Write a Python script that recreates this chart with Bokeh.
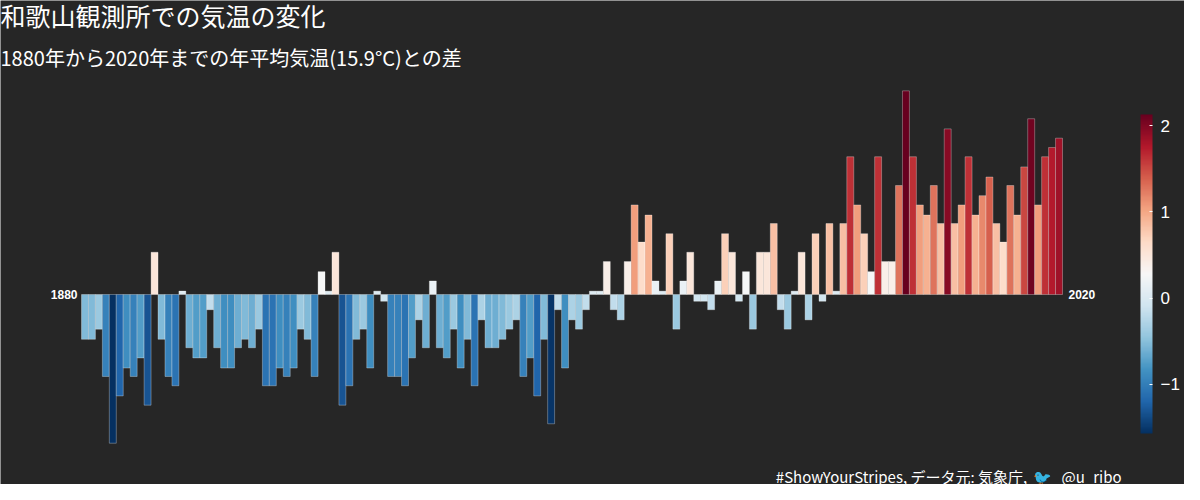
from bokeh.plotting import figure
from bokeh.models import ColumnDataSource, LinearColorMapper, ColorBar, Label, FixedTicker
from bokeh.transform import transform
from bokeh.palettes import RdBu11
from bokeh.embed import file_html
from bokeh.resources import INLINE

years = list(range(1880, 2021))
anomaly = [
 -0.53,-0.53,-0.41,-0.97,-1.76,-1.20,-0.87,-0.97,-0.75,-1.31,
 0.50,-0.53,-0.97,-1.08,0.04,-0.63,-0.75,-0.75,-0.18,-0.63,
 -0.87,-0.87,-0.63,-0.53,-0.63,-0.41,-1.08,-1.08,-0.87,-0.97,
 -0.87,-0.41,-0.53,-0.97,0.27,0.04,0.50,-1.31,-1.08,-0.53,
 -0.41,-0.87,0.04,-0.08,-0.97,-0.97,-1.08,-0.75,-0.30,-0.63,
 0.16,-0.63,-0.75,-0.41,-0.87,-0.53,-1.08,-0.30,-0.63,-0.63,
 -0.53,-0.41,-0.30,-0.97,-0.75,-1.20,-0.53,-1.53,-0.18,-0.87,
 -0.30,-0.41,-0.18,0.04,0.04,0.39,-0.18,-0.30,0.39,1.06,
 0.62,0.94,0.16,0.04,0.72,-0.41,0.16,0.50,-0.08,-0.08,
 -0.18,0.16,0.72,0.50,-0.08,0.27,-0.41,0.50,0.50,0.84,
 -0.18,-0.41,0.04,0.50,-0.30,0.72,-0.08,0.84,0.04,0.84,
 1.63,1.06,0.72,0.27,1.63,0.39,0.39,1.29,2.41,1.63,
 1.06,0.94,1.29,0.84,1.96,0.84,1.06,1.63,0.94,1.17,
 1.39,0.84,0.62,1.29,0.94,1.51,2.08,1.06,1.63,1.74,1.85]

title = "和歌山観測所での気温の変化"
subtitle = "1880年から2020年までの年平均気温(15.9°C)との差"
caption = "#ShowYourStripes, データ元: 気象庁, "
handle = "@u_ribo"
cbar_ticks = [-1, 0, 1, 2]

def smooth(pal, n=256):
    base = [tuple(int(c[i:i + 2], 16) for i in (1, 3, 5)) for c in pal]
    out = []
    for k in range(n):
        t = k / (n - 1) * (len(base) - 1)
        i = min(int(t), len(base) - 2)
        f = t - i
        r, g, b = (round(base[i][j] + (base[i + 1][j] - base[i][j]) * f) for j in range(3))
        out.append("#%02x%02x%02x" % (r, g, b))
    return out

W, H = 1184, 484
upp = 141 / 981.0
x0 = 1879.5 - 81 * upp
x1 = 2020.5 + (W - 1062) * upp
ppu = 84.5
y1 = 294 / ppu
y0 = -(H - 294) / ppu

p = figure(width=W, height=H, output_backend="svg", toolbar_location=None,
           x_range=(x0, x1), y_range=(y0, y1), min_border=0,
           background_fill_color="#262626", border_fill_color="#262626")
p.axis.visible = False
p.grid.visible = False
p.outline_line_color = None

pal = list(reversed(smooth(list(RdBu11))))
if pal[-1] < "#4":  # ensure high end is red
    pal = list(reversed(pal))
mapper = LinearColorMapper(palette=smooth(list(reversed(RdBu11)))[::-1] if False else pal,
                           low=-1.57, high=2.13)
src = ColumnDataSource(dict(year=years, val=anomaly))
p.vbar(x="year", top="val", bottom=0, width=1, source=src,
       fill_color=transform("val", mapper), line_color="white", line_alpha=0.3, line_width=1)

ff = "Noto Sans CJK JP"
p.add_layout(Label(x=1879.5, y=0, text="1880", text_align="right", text_baseline="middle",
                   x_offset=-4, text_color="white", text_font="Liberation Sans", text_font_size="12px",
                   text_font_style="bold"))
p.add_layout(Label(x=2020.5, y=0, text="2020", text_align="left", text_baseline="middle",
                   x_offset=6, text_color="white", text_font="Liberation Sans", text_font_size="12px",
                   text_font_style="bold"))
p.add_layout(Label(x=0, y=H + 4, x_units="screen", y_units="screen", text=title,
                   text_baseline="top", text_color="white", text_font=ff, text_font_size="25px"))
p.add_layout(Label(x=0, y=H - 42, x_units="screen", y_units="screen", text=subtitle,
                   text_baseline="top", text_color="white", text_font=ff, text_font_size="20px"))
p.add_layout(Label(x=1030, y=-2, x_units="screen", y_units="screen", text=caption,
                   text_align="right", text_baseline="bottom", text_color="white",
                   text_font=ff, text_font_size="15px"))
p.add_layout(Label(x=1121, y=-2, x_units="screen", y_units="screen", text=handle,
                   text_align="right", text_baseline="bottom", text_color="white",
                   text_font=ff, text_font_size="15px"))
p.add_layout(Label(x=1042, y=-1, x_units="screen", y_units="screen", text="🐦",
                   text_align="center", text_baseline="bottom", text_color="#1da1f2",
                   text_font_size="15px"))

cb = ColorBar(color_mapper=mapper, location=(1140, 51), width=12, height=319,
              padding=0, margin=0, ticker=FixedTicker(ticks=cbar_ticks),
              background_fill_alpha=0, major_label_text_color="white",
              major_label_text_font_size="17px", major_label_text_font="Liberation Sans",
              major_tick_line_color="white", major_tick_in=3, major_tick_out=0,
              minor_tick_line_color=None, bar_line_color=None, label_standoff=8)
p.add_layout(cb, "center")

open("out.html", "w").write(file_html(p, INLINE))
